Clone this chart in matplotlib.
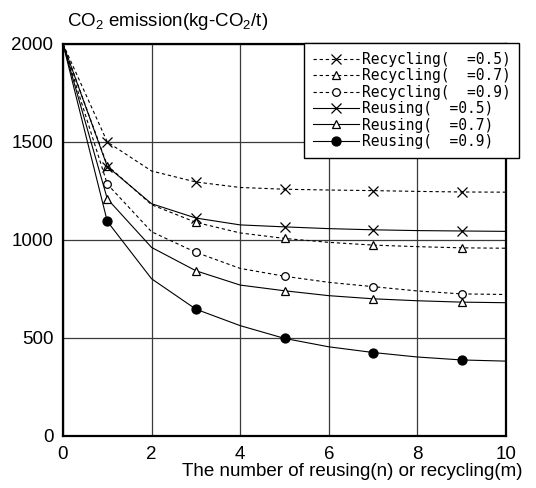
import matplotlib
matplotlib.use('Agg')
import matplotlib.pyplot as plt

plt.rcParams['font.family'] = ['Liberation Sans', 'DejaVu Sans']
plt.rcParams['mathtext.default'] = 'regular'

# number of reusing / recycling
n = [0, 1, 2, 3, 4, 5, 6, 7, 8, 9, 10]

# CO2 emission (kg-CO2/t)
rec_05 = [2000, 1500, 1352, 1296, 1268, 1259, 1255, 1252, 1248, 1245, 1244]
rec_07 = [2000, 1380, 1180, 1090, 1036, 1008, 988, 974, 966, 960, 958]
rec_09 = [2000, 1285, 1042, 937, 855, 815, 784, 762, 740, 725, 722]
reu_05 = [2000, 1375, 1185, 1112, 1077, 1067, 1058, 1052, 1048, 1046, 1044]
reu_07 = [2000, 1210, 962, 843, 770, 741, 716, 700, 690, 683, 680]
reu_09 = [2000, 1095, 802, 647, 563, 498, 455, 426, 403, 388, 382]

labels = ['Recycling(  =0.5)', 'Recycling(  =0.7)', 'Recycling(  =0.9)',
          'Reusing(  =0.5)', 'Reusing(  =0.7)', 'Reusing(  =0.9)']

marks = [1, 3, 5, 7, 9]  # markers only on odd points

fig = plt.figure(figsize=(5.36, 4.88), dpi=100)
ax = fig.add_axes([63/536, 1-436/488, 443/536, 392/488])

lw = 0.8
dash = (3, 2.5)
ax.plot(n, rec_05, color='k', lw=lw, dashes=dash, marker='x', ms=7, mew=0.9,
        markevery=marks, label=labels[0])
ax.plot(n, rec_07, color='k', lw=lw, dashes=dash, marker='^', ms=6, mew=0.9,
        mfc='white', markevery=marks, label=labels[1])
ax.plot(n, rec_09, color='k', lw=lw, dashes=dash, marker='o', ms=5.5, mew=0.9,
        mfc='white', markevery=marks, label=labels[2])
ax.plot(n, reu_05, color='k', lw=lw, marker='x', ms=7, mew=0.9,
        markevery=marks, label=labels[3])
ax.plot(n, reu_07, color='k', lw=lw, marker='^', ms=6, mew=0.9,
        mfc='white', markevery=marks, label=labels[4])
ax.plot(n, reu_09, color='k', lw=lw, marker='o', ms=6.5, mew=0.9,
        mfc='k', markevery=marks, label=labels[5])

ax.set_xlim(0, 10)
ax.set_ylim(0, 2000)
ax.set_xticks([0, 2, 4, 6, 8, 10])
ax.set_yticks([0, 500, 1000, 1500, 2000])
ax.tick_params(direction='in', length=0, labelsize=13.5, pad=7)
ax.grid(True, color='#3a3a3a', lw=0.9)
for s in ax.spines.values():
    s.set_linewidth(1.6)

leg = ax.legend(loc='upper right', bbox_to_anchor=(519/536, 1-43/488),
                bbox_transform=fig.transFigure, borderaxespad=0,
                prop={'family': 'DejaVu Sans Mono', 'size': 10.5},
                handlelength=3.15, handletextpad=0.2, labelspacing=0.1,
                borderpad=0.6, numpoints=1, fancybox=False, framealpha=1,
                edgecolor='k')
leg.get_frame().set_linewidth(1.0)

fig.text(67/536, 1-22/488, 'CO$_2$ emission(kg-CO$_2$/t)', fontsize=13.5, va='center')
fig.text(522/536, 1-472/488, 'The number of reusing(n) or recycling(m)',
         fontsize=13.5, ha='right', va='center')

fig.savefig('out.png', dpi=100)
